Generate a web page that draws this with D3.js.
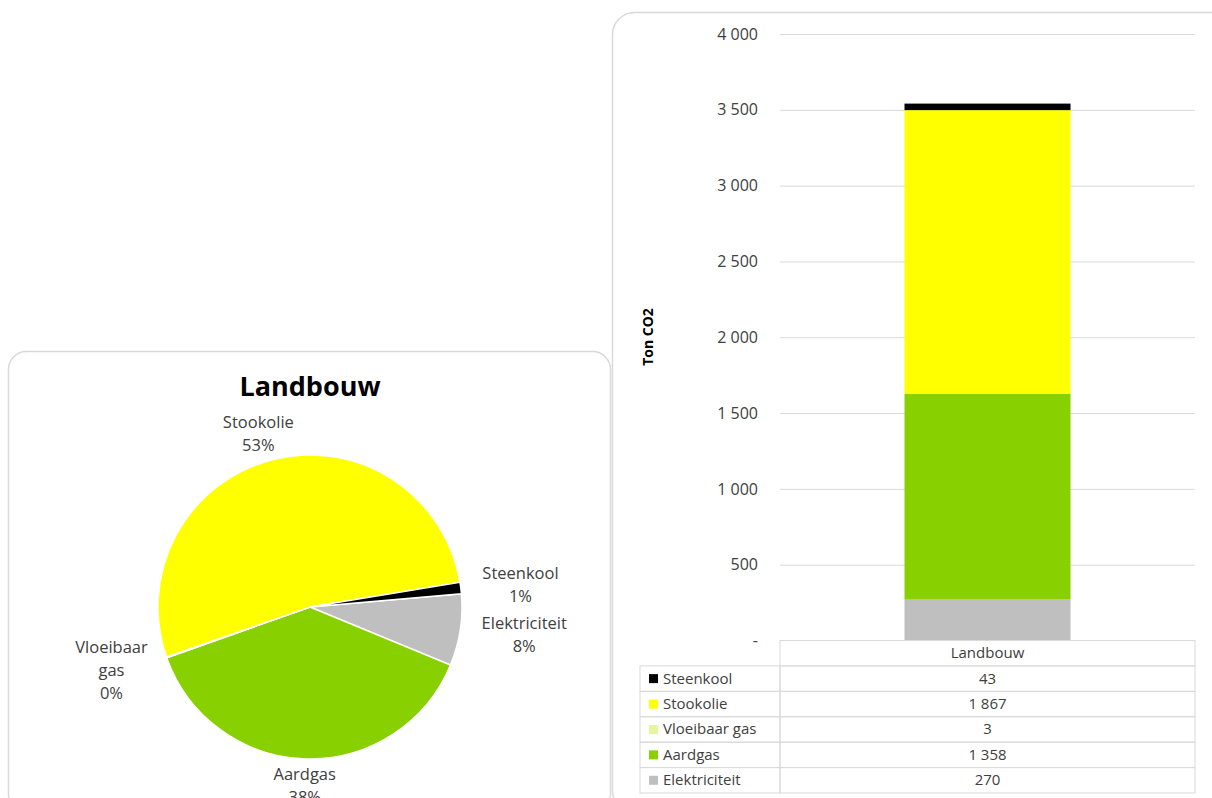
<!DOCTYPE html>
<html>
<head>
<meta charset="utf-8">
<script src="https://cdn.jsdelivr.net/npm/d3@7"></script>
<style>
  body { margin: 0; background: #fff; }
  svg { display: block; font-family: "Open Sans", Lato, sans-serif; }
</style>
</head>
<body>
<svg id="chart" width="1212" height="798"></svg>
<script>
// Data
const categories = ["Landbouw"];
const seriesNames = ["Steenkool", "Stookolie", "Vloeibaar gas", "Aardgas", "Elektriciteit"];
const seriesValues = [43, 1867, 3, 1358, 270];
const seriesColors = ["#000000", "#ffff00", "#e6f5a0", "#88d000", "#bfbfbf"];
const yTicks = [0, 500, 1000, 1500, 2000, 2500, 3000, 3500, 4000];
const pieLabelLines = {
    "Steenkool": ["Steenkool"],
    "Stookolie": ["Stookolie"],
    "Vloeibaar gas": ["Vloeibaar", "gas"],
    "Aardgas": ["Aardgas"],
    "Elektriciteit": ["Elektriciteit"]
};

const svg = d3.select("#chart");
const color = d3.scaleOrdinal().domain(seriesNames).range(seriesColors);
const nl = d3.formatLocale({decimal: ",", thousands: " ", grouping: [3], currency: ["€", ""]});
const fmt = nl.format(",");

// Panel frames
svg.append("rect").attr("x", 8.5).attr("y", 351.5).attr("width", 602).attr("height", 460)
    .attr("rx", 18).attr("fill", "none").attr("stroke", "#d9d9d9").attr("stroke-width", 1.5);
svg.append("rect").attr("x", 612.5).attr("y", 12.5).attr("width", 620).attr("height", 800)
    .attr("rx", 22).attr("fill", "none").attr("stroke", "#d9d9d9").attr("stroke-width", 1.5);

// ---------- Pie chart ----------
const cx = 310, cy = 607, r = 152;
const pieData = seriesNames.map((n, i) => ({name: n, value: seriesValues[i]})).reverse();
const total = d3.sum(seriesValues);
const start = 85 * Math.PI / 180;
const pie = d3.pie().sort(null).value(d => d.value).startAngle(start).endAngle(start + 2 * Math.PI);
const arc = d3.arc().innerRadius(0).outerRadius(r);
const pg = svg.append("g").attr("transform", `translate(${cx},${cy})`);

pg.selectAll("path")
    .data(pie(pieData))
    .enter().append("path")
    .attr("d", arc)
    .attr("fill", d => color(d.data.name))
    .attr("stroke", "#fff")
    .attr("stroke-width", 1.5);

svg.append("text")
    .attr("x", cx).attr("y", 396)
    .attr("text-anchor", "middle")
    .attr("font-size", 27).attr("font-weight", "bold").attr("fill", "#000")
    .text(categories[0]);

const pct = d3.format(".0%");
const lineH = 23;
pg.selectAll("g.lbl")
    .data(pie(pieData))
    .enter().append("g")
    .attr("class", "lbl")
    .each(function(d) {
        const g = d3.select(this);
        const lines = pieLabelLines[d.data.name].concat([pct(d.data.value / total)]);
        const t = g.append("text")
            .attr("text-anchor", "middle")
            .attr("font-size", 16.5).attr("fill", "#404040");
        lines.forEach((l, i) => {
            t.append("tspan").attr("x", 0).attr("y", (i - (lines.length - 1) / 2) * lineH + 6).text(l);
        });
        const bb = t.node().getBBox();
        const a = (d.startAngle + d.endAngle) / 2;
        // labels sit a bit further out sideways than above/below
        const x = Math.sin(a) * (r + 22 + bb.width / 2);
        const y = -Math.cos(a) * (r + 4 + bb.height / 2);
        g.attr("transform", `translate(${x},${y})`);
    });

// ---------- Stacked bar chart ----------
const plotLeft = 780, plotRight = 1195, plotTop = 34, plotBottom = 640.5;
const y = d3.scaleLinear().domain([0, 4000]).range([plotBottom, plotTop]);
const x = d3.scaleBand().domain(categories).range([plotLeft, plotRight]).paddingInner(0.6).paddingOuter(0.3);

const yAxis = svg.append("g")
    .attr("transform", `translate(${plotLeft},0)`)
    .call(d3.axisLeft(y).tickValues(yTicks).tickSize(-(plotRight - plotLeft)).tickPadding(22)
        .tickFormat(v => v === 0 ? "-" : fmt(v)));
yAxis.select(".domain").remove();
yAxis.selectAll(".tick line").attr("stroke", "#d9d9d9");
yAxis.selectAll(".tick").filter(d => d === 0).select("line").remove();
yAxis.selectAll(".tick text").attr("font-size", 16).attr("fill", "#404040")
    .attr("font-family", "'Open Sans', sans-serif");

svg.append("text")
    .attr("transform", `translate(653,337) rotate(-90)`)
    .attr("text-anchor", "middle")
    .attr("font-family", "'Open Sans', sans-serif")
    .attr("font-size", 14).attr("font-weight", "bold").attr("fill", "#000")
    .text("Ton CO2");

const row = {};
categories.forEach(c => {
    seriesNames.forEach((n, i) => { row[n] = seriesValues[i]; });
});
const stack = d3.stack().keys(seriesNames.slice().reverse());
const stacked = stack([Object.assign({category: categories[0]}, row)]);

svg.append("g").selectAll("rect")
    .data(stacked)
    .enter().append("rect")
    .attr("x", d => x(d[0].data.category))
    .attr("width", x.bandwidth())
    .attr("y", d => y(d[0][1]))
    .attr("height", d => y(d[0][0]) - y(d[0][1]))
    .attr("fill", d => color(d.key));

// ---------- Data table ----------
const tableLeft = 640, tableBottom = 793;
const rows = d3.scaleBand().domain(["header"].concat(seriesNames)).range([plotBottom, tableBottom]);
const tg = svg.append("g");
const border = "#d9d9d9";

// header cell
tg.append("rect").attr("x", plotLeft).attr("y", rows("header"))
    .attr("width", plotRight - plotLeft).attr("height", rows.bandwidth())
    .attr("fill", "none").attr("stroke", border);
tg.append("text").attr("x", (plotLeft + plotRight) / 2).attr("y", rows("header") + rows.bandwidth() / 2 + 5)
    .attr("text-anchor", "middle").attr("font-size", 15).attr("fill", "#404040")
    .text(categories[0]);

seriesNames.forEach((n, i) => {
    const ry = rows(n), h = rows.bandwidth();
    tg.append("rect").attr("x", tableLeft).attr("y", ry).attr("width", plotLeft - tableLeft).attr("height", h)
        .attr("fill", "none").attr("stroke", border);
    tg.append("rect").attr("x", plotLeft).attr("y", ry).attr("width", plotRight - plotLeft).attr("height", h)
        .attr("fill", "none").attr("stroke", border);
    tg.append("rect").attr("x", tableLeft + 9).attr("y", ry + h / 2 - 4.5).attr("width", 9).attr("height", 9)
        .attr("fill", color(n));
    tg.append("text").attr("x", tableLeft + 23).attr("y", ry + h / 2 + 5)
        .attr("font-size", 15).attr("fill", "#404040").text(n);
    tg.append("text").attr("x", (plotLeft + plotRight) / 2).attr("y", ry + h / 2 + 5)
        .attr("text-anchor", "middle").attr("font-size", 15).attr("fill", "#404040")
        .text(fmt(seriesValues[i]));
});
</script>
</body>
</html>
